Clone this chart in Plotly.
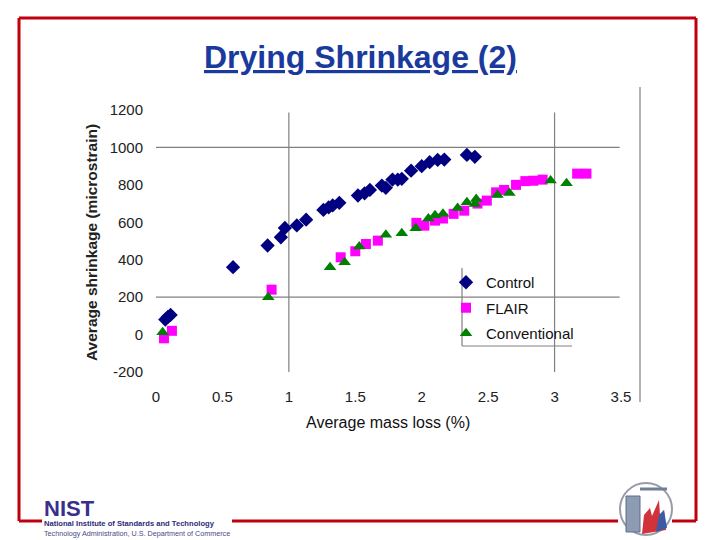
import plotly.graph_objects as go

# ---------------- data ----------------
control_x = [0.07, 0.09, 0.11, 0.58, 0.84, 0.94, 0.97, 1.06, 1.13, 1.26, 1.30, 1.33, 1.38,
             1.52, 1.57, 1.61, 1.70, 1.73, 1.78, 1.82, 1.85, 1.92, 2.00, 2.06, 2.12, 2.17,
             2.34, 2.40]
control_y = [80, 95, 105, 360, 476, 520, 570, 583, 614, 666, 680, 690, 704,
             743, 755, 773, 796, 784, 828, 828, 832, 876, 900, 921, 933, 935,
             960, 950]

flair_x = [0.06, 0.12, 0.87, 1.39, 1.50, 1.58, 1.67, 1.96, 2.02, 2.10, 2.16, 2.24, 2.32,
           2.42, 2.49, 2.56, 2.62, 2.71, 2.78, 2.84, 2.91, 3.17, 3.24]
flair_y = [-20, 20, 240, 413, 445, 484, 502, 597, 582, 609, 620, 645, 662,
           700, 716, 760, 773, 800, 820, 822, 828, 860, 860]

conv_x = [0.05, 0.845, 1.31, 1.42, 1.53, 1.73, 1.85, 1.955, 2.05, 2.10, 2.16, 2.27, 2.34,
          2.40, 2.41, 2.57, 2.66, 2.97, 3.09]
conv_y = [12, 200, 360, 386, 470, 533, 541, 568, 620, 638, 645, 677, 707,
          698, 725, 746, 757, 823, 808]

x_ticks = [0, 0.5, 1, 1.5, 2, 2.5, 3, 3.5]
x_tick_labels = ["0", "0.5", "1", "1.5", "2", "2.5", "3", "3.5"]
y_ticks = [-200, 0, 200, 400, 600, 800, 1000, 1200]
y_tick_labels = ["-200", "0", "200", "400", "600", "800", "1000", "1200"]

W, H = 720, 540
FONT = "Liberation Sans, Arial, sans-serif"


def px(x):
    return x / W


def py(y):
    return 1 - y / H


fig = go.Figure()
fig.add_trace(go.Scatter(x=control_x, y=control_y, mode="markers", name="Control",
                         legendgroup="a",
                         marker=dict(symbol="diamond", size=11, color="#000080")))
fig.add_trace(go.Scatter(x=flair_x, y=flair_y, mode="markers", name="FLAIR",
                         legendgroup="b",
                         marker=dict(symbol="square", size=10, color="#ff00ff")))
fig.add_trace(go.Scatter(x=conv_x, y=conv_y, mode="markers", name="Conventional",
                         legendgroup="c",
                         marker=dict(symbol="triangle-up", size=11, color="#008000")))

shapes = []
grid = dict(color="#808080", width=1.2)
# partial gridlines (data coords)
for yv in (1000, 200):
    shapes.append(dict(type="line", xref="x", yref="y", x0=-0.045, x1=3.49, y0=yv, y1=yv,
                       line=grid, layer="below"))
for xv in (1, 3):
    shapes.append(dict(type="line", xref="x", yref="y", x0=xv, x1=xv, y0=1186, y1=-272,
                       line=grid, layer="below"))
# legend box: white background (hides gridlines) + left/bottom border
shapes.append(dict(type="rect", xref="paper", yref="paper", x0=px(462), x1=px(572),
                   y0=py(346), y1=py(268), line=dict(width=0), fillcolor="white",
                   layer="below"))
shapes.append(dict(type="line", xref="paper", yref="paper", x0=px(462), x1=px(462),
                   y0=py(268), y1=py(346), line=grid, layer="below"))
shapes.append(dict(type="line", xref="paper", yref="paper", x0=px(462), x1=px(572),
                   y0=py(346), y1=py(346), line=grid, layer="below"))
# right edge line of chart area
shapes.append(dict(type="line", xref="paper", yref="paper", x0=px(640), x1=px(640),
                   y0=py(87), y1=py(402), line=grid))

# red slide frame
red = dict(color="#c0000c", width=3)
segs = [((19, 18), (696, 18)), ((19, 18), (19, 521)), ((696, 18), (696, 521)),
        ((19, 521), (42, 521)), ((232, 521), (618, 521)), ((672, 521), (696, 521))]
for (a, b) in segs:
    shapes.append(dict(type="line", xref="paper", yref="paper", x0=px(a[0]), y0=py(a[1]),
                       x1=px(b[0]), y1=py(b[1]), line=red))

# right logo (decorative)
shapes.append(dict(type="circle", xref="paper", yref="paper", x0=px(620), x1=px(672),
                   y0=py(535), y1=py(483), line=dict(color="#9a9aa8", width=2),
                   fillcolor="white"))
shapes.append(dict(type="rect", xref="paper", yref="paper", x0=px(626), x1=px(640),
                   y0=py(532), y1=py(496), line=dict(color="#5f6f8a", width=1),
                   fillcolor="#8d9bb3"))
shapes.append(dict(type="line", xref="paper", yref="paper", x0=px(640), x1=px(667),
                   y0=py(489), y1=py(489), line=dict(color="#6f7f98", width=3)))
shapes.append(dict(type="path", xref="paper", yref="paper",
                   path=f"M {px(642)} {py(534)} L {px(644)} {py(515)} L {px(650)} {py(508)} "
                        f"L {px(652)} {py(516)} L {px(659)} {py(500)} L {px(660)} {py(515)} "
                        f"L {px(664)} {py(510)} L {px(666)} {py(530)} Z",
                   line=dict(width=0), fillcolor="#d2323a"))
shapes.append(dict(type="path", xref="paper", yref="paper",
                   path=f"M {px(656)} {py(532)} L {px(659)} {py(515)} L {px(664)} {py(510)} "
                        f"L {px(667)} {py(528)} Z",
                   line=dict(width=0), fillcolor="#3b5ba5"))

annotations = [
    dict(text="<b><u>Drying Shrinkage (2)</u></b>", x=px(360), y=py(57), xref="paper",
         yref="paper", showarrow=False, xanchor="center", yanchor="middle",
         font=dict(family=FONT, size=32, color="#1a3a9e")),
    dict(text="Average mass loss (%)", x=px(388), y=py(422), xref="paper", yref="paper",
         showarrow=False, xanchor="center", yanchor="middle",
         font=dict(family=FONT, size=16, color="#111111")),
    dict(text="<b>Average shrinkage (microstrain)</b>", x=px(92), y=py(243), xref="paper",
         yref="paper", showarrow=False, xanchor="center", yanchor="middle", textangle=-90,
         font=dict(family=FONT, size=15.5, color="#222222")),
    dict(text="<b>NIST</b>", x=px(42), y=py(508), xref="paper", yref="paper",
         showarrow=False, xanchor="left", yanchor="middle",
         font=dict(family=FONT, size=22, color="#3a2f8c")),
    dict(text="<b>National Institute of Standards and Technology</b>", x=px(42), y=py(523),
         xref="paper", yref="paper", showarrow=False, xanchor="left", yanchor="middle",
         font=dict(family=FONT, size=7.6, color="#2e2a7a")),
    dict(text="Technology Administration, U.S. Department of Commerce", x=px(42), y=py(533),
         xref="paper", yref="paper", showarrow=False, xanchor="left", yanchor="middle",
         font=dict(family=FONT, size=7.2, color="#4a4a86")),
]

fig.update_layout(
    width=W, height=H,
    margin=dict(l=0, r=0, t=0, b=0, pad=0, autoexpand=False),
    paper_bgcolor="white", plot_bgcolor="white",
    font=dict(family=FONT, size=15, color="#222222"),
    showlegend=True,
    legend=dict(x=px(446), y=py(266), xanchor="left", yanchor="top",
                bgcolor="rgba(0,0,0,0)", borderwidth=0, tracegroupgap=3,
                font=dict(family=FONT, size=15, color="#111111"),
                itemwidth=30),
    xaxis=dict(domain=[px(156), px(621)], range=[0, 3.5], tickvals=x_ticks,
               ticktext=x_tick_labels, showgrid=False, zeroline=False, showline=False,
               ticks="", ticklabelstandoff=14, automargin=False,
               tickfont=dict(family=FONT, size=15, color="#222222")),
    yaxis=dict(domain=[py(372), py(110)], range=[-200, 1200], tickvals=y_ticks,
               ticktext=y_tick_labels, showgrid=False, zeroline=False, showline=False,
               ticks="", ticklabelstandoff=12, automargin=False,
               tickfont=dict(family=FONT, size=15, color="#222222")),
    shapes=shapes,
    annotations=annotations,
)

fig.write_html("out.html", config={"displayModeBar": False},
               post_script="document.body.style.margin='0';")
